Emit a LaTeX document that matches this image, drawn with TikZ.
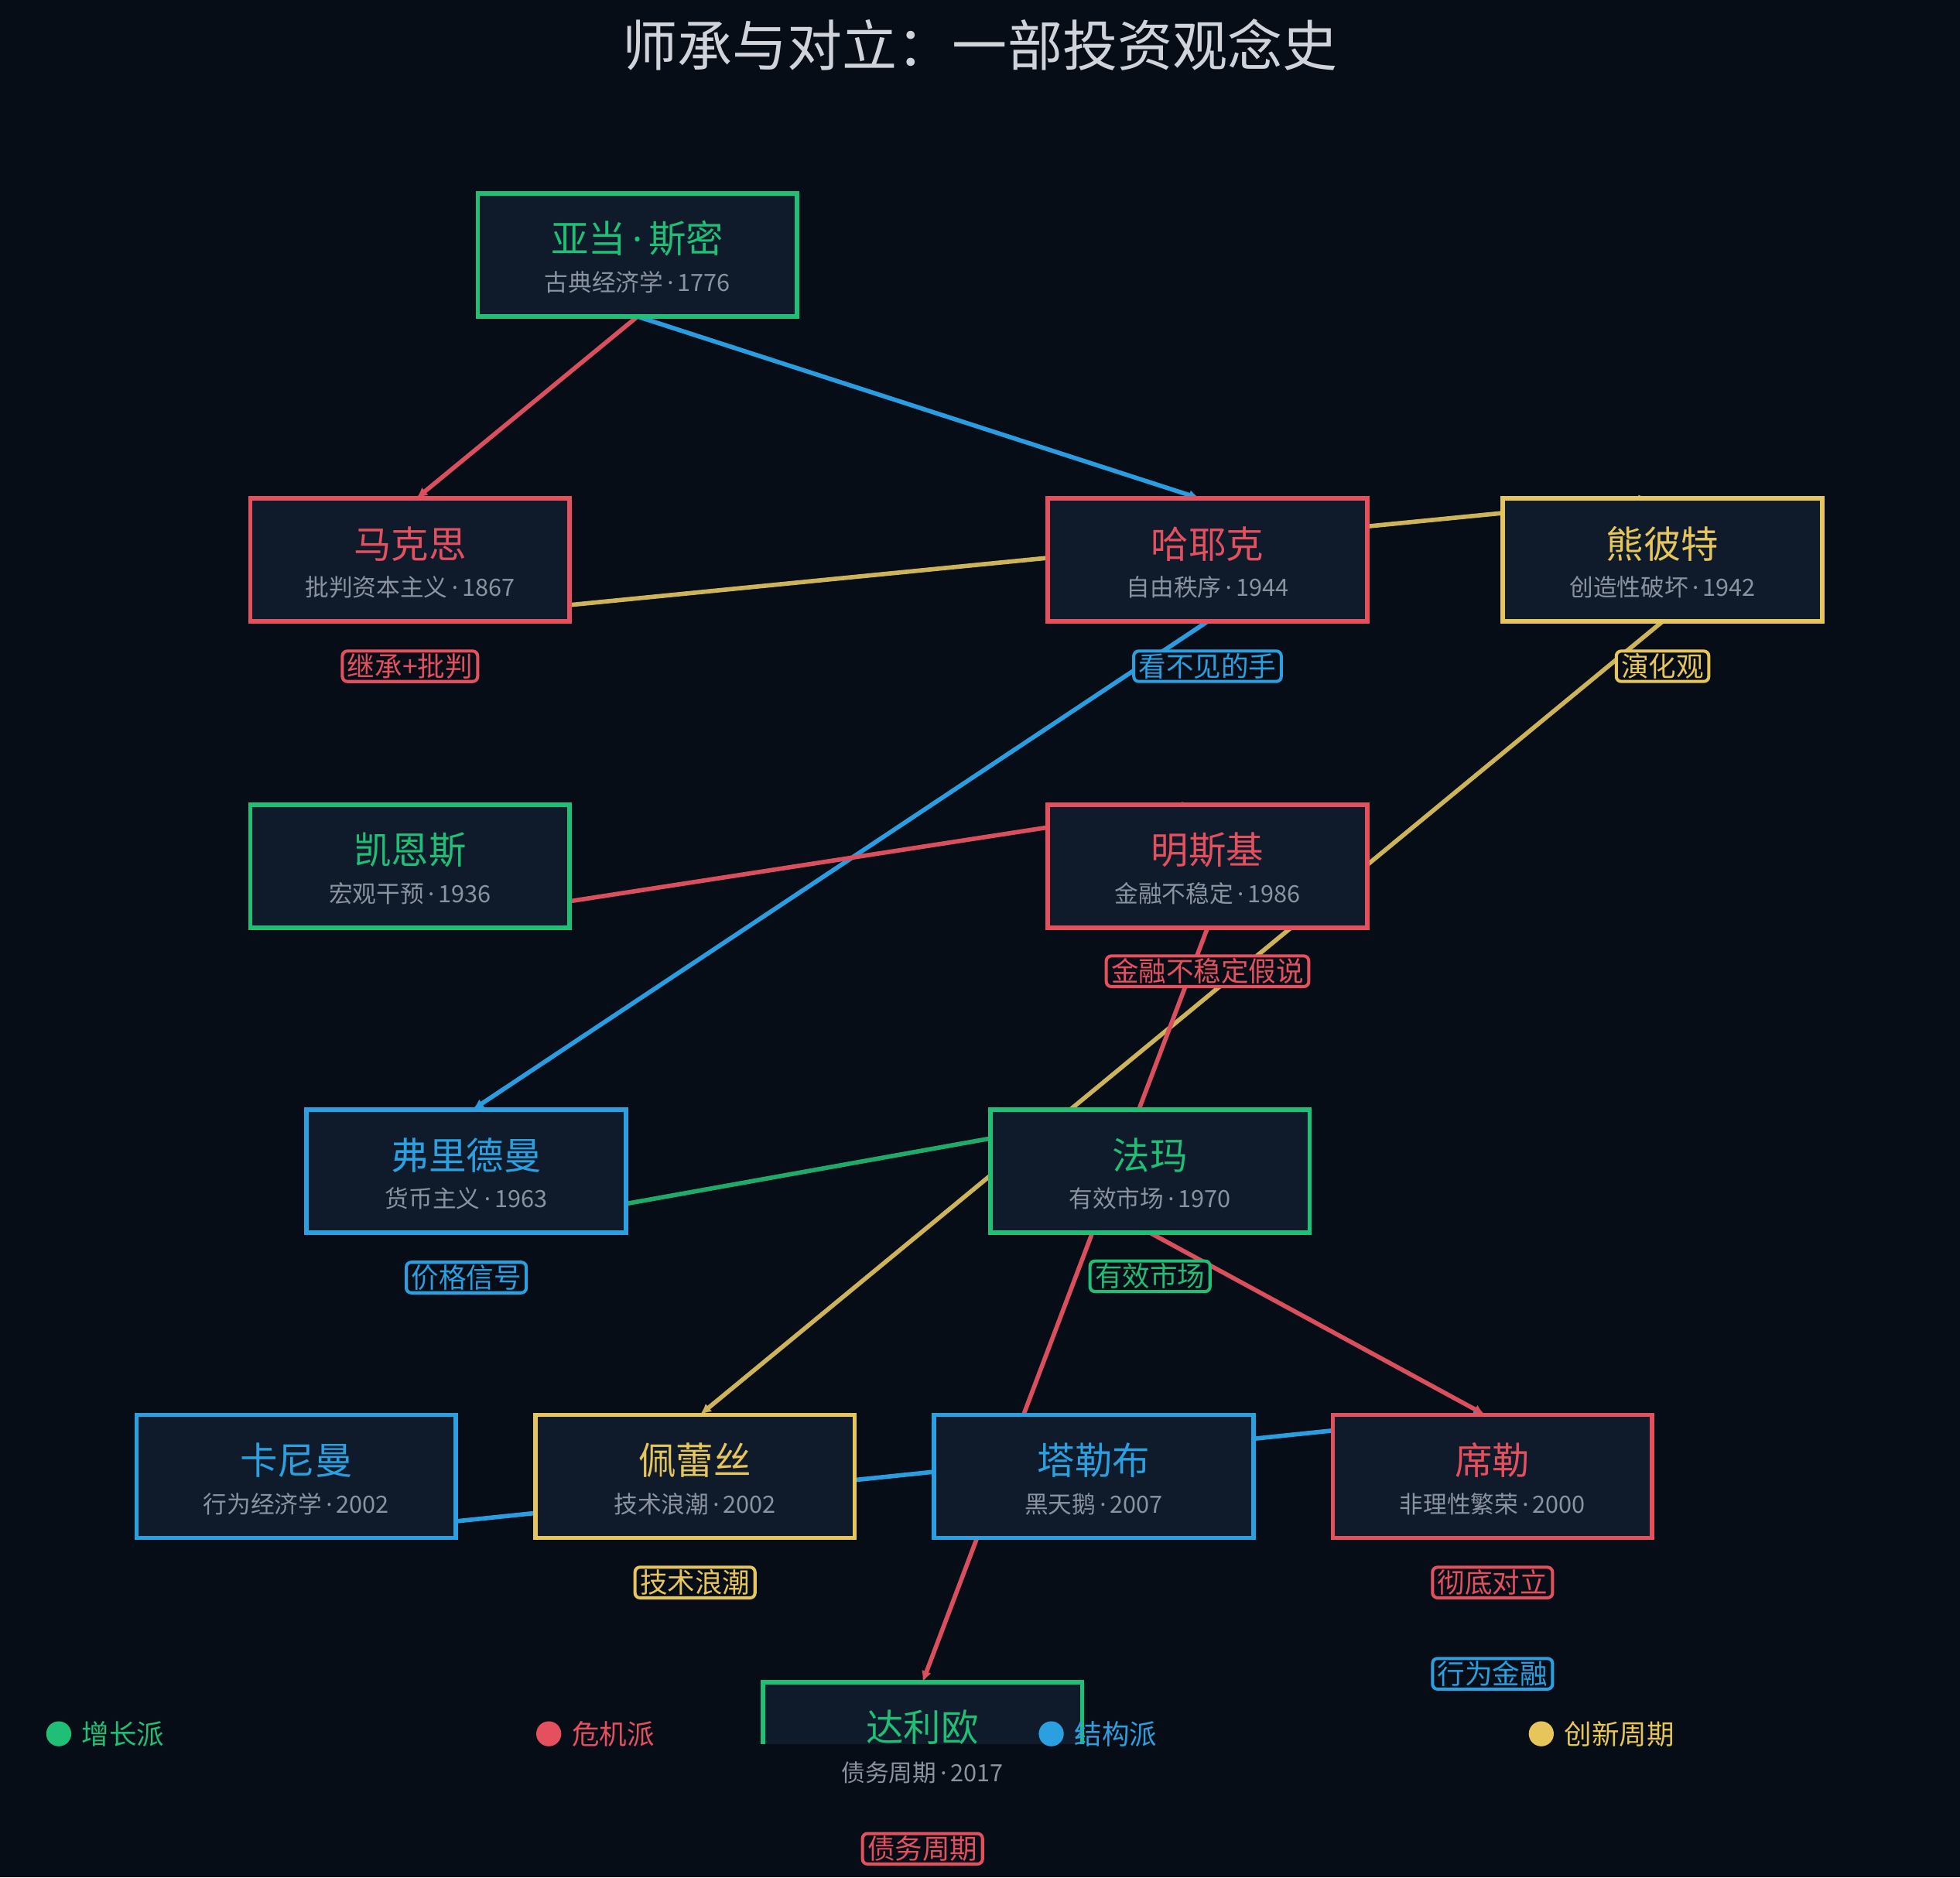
\documentclass[tikz,border=0pt]{standalone}
\usepackage{fontspec}
\setmainfont{Noto Sans CJK SC}
\newfontfamily\lat{Noto Sans}
\usetikzlibrary{arrows.meta}
\definecolor{bg}{HTML}{070D17}
\definecolor{boxfill}{HTML}{0F1A2A}
\definecolor{cg}{HTML}{1FBF75}
\definecolor{cr}{HTML}{E5505F}
\definecolor{cb}{HTML}{2AA0E0}
\definecolor{cy}{HTML}{E6C65A}
\definecolor{lg}{HTML}{1FAA6A}
\definecolor{lr}{HTML}{D94F5D}
\definecolor{lb}{HTML}{2A9DE0}
\definecolor{ly}{HTML}{CDB45A}
\definecolor{sub}{HTML}{8A93A0}
\definecolor{ttl}{HTML}{D0D4DA}
\newcommand{\md}{{\lat\,·\,}}
\begin{document}
\begin{tikzpicture}[x=1pt,y=-1pt,
  box/.style={draw=none,fill=none,minimum width=255pt,minimum height=98pt,inner sep=0pt},
  nm/.style={text=#1,font=\fontsize{30}{32}\selectfont},
  sb/.style={text=sub,font=\fontsize{19}{21}\selectfont},
  tag/.style={draw=#1,text=#1,line width=2.5pt,rounded corners=4pt,fill=bg,inner xsep=4pt,inner ysep=2pt,font=\fontsize{22}{24}\selectfont},
  ed/.style={draw=#1,line width=3.5pt,-{Latex[length=9pt,width=8pt]}},
  lgd/.style={text=#1,font=\fontsize{22}{24}\selectfont,anchor=west}]
\fill[bg] (0,0) rectangle (1568,1502);
\useasboundingbox (0,0) rectangle (1568,1502);
\node[text=ttl,font=\fontsize{44}{48}\selectfont] (title) at (784,36) {师承与对立：一部投资观念史};
\coordinate (csmith) at (510,204);
\coordinate (cmarx) at (328,448);
\coordinate (chayek) at (966,448);
\coordinate (cschum) at (1330,448);
\coordinate (ckeynes) at (328,693);
\coordinate (cminsky) at (966,693);
\coordinate (cfried) at (373,937);
\coordinate (cfama) at (920,937);
\coordinate (ckahn) at (237,1181);
\coordinate (cperez) at (556,1181);
\coordinate (ctaleb) at (875,1181);
\coordinate (cshill) at (1194,1181);
\coordinate (cdalio) at (738,1395);
\node[box] (smith) at (csmith) {};
\node[box] (marx) at (cmarx) {};
\node[box] (hayek) at (chayek) {};
\node[box] (schum) at (cschum) {};
\node[box] (keynes) at (ckeynes) {};
\node[box] (minsky) at (cminsky) {};
\node[box] (fried) at (cfried) {};
\node[box] (fama) at (cfama) {};
\node[box] (kahn) at (ckahn) {};
\node[box] (perez) at (cperez) {};
\node[box] (taleb) at (ctaleb) {};
\node[box] (shill) at (cshill) {};
\node[box] (dalio) at (cdalio) {};
% edges
\draw[ed=lr] (smith.south) -- ([xshift=5pt]marx.north);
\draw[ed=lb] (smith.south) -- ([xshift=-6pt]hayek.north);
\draw[ed=ly] ([yshift=-36pt]marx.east) -- ([xshift=-10pt]schum.north);
\draw[ed=lb] (hayek.south) -- ([xshift=5pt]fried.north);
\draw[ed=lr] ([yshift=-28pt]keynes.east) -- ([xshift=-11pt]minsky.north);
\draw[ed=ly] (schum.south) -- ([xshift=4pt]perez.north);
\draw[ed=lr] (minsky.south) -- (dalio.north);
\draw[ed=lg] ([yshift=-26pt]fried.east) -- (fama.north);
\draw[ed=lr] (fama.south) -- ([xshift=-6pt]shill.north);
\draw[ed=lb] ([yshift=-36pt]kahn.east) -- ([xshift=-6pt]shill.north);
\foreach \n/\c in {smith/cg,marx/cr,hayek/cr,schum/cy,keynes/cg,minsky/cr,fried/cb,fama/cg,kahn/cb,perez/cy,taleb/cb,shill/cr,dalio/cg}{
  \draw[\c,line width=3.5pt,fill=boxfill] (\n.south west) rectangle (\n.north east);
}
\node[nm=cg] (t1) at ([yshift=13pt]csmith) {亚当\md 斯密};
\node[sb] (s1) at ([yshift=-22pt]csmith) {古典经济学\md 1776};
\node[nm=cr] (t2) at ([yshift=13pt]cmarx) {马克思};
\node[sb] (s2) at ([yshift=-22pt]cmarx) {批判资本主义\md 1867};
\node[nm=cr] (t3) at ([yshift=13pt]chayek) {哈耶克};
\node[sb] (s3) at ([yshift=-22pt]chayek) {自由秩序\md 1944};
\node[nm=cy] (t4) at ([yshift=13pt]cschum) {熊彼特};
\node[sb] (s4) at ([yshift=-22pt]cschum) {创造性破坏\md 1942};
\node[nm=cg] (t5) at ([yshift=13pt]ckeynes) {凯恩斯};
\node[sb] (s5) at ([yshift=-22pt]ckeynes) {宏观干预\md 1936};
\node[nm=cr] (t6) at ([yshift=13pt]cminsky) {明斯基};
\node[sb] (s6) at ([yshift=-22pt]cminsky) {金融不稳定\md 1986};
\node[nm=cb] (t7) at ([yshift=13pt]cfried) {弗里德曼};
\node[sb] (s7) at ([yshift=-22pt]cfried) {货币主义\md 1963};
\node[nm=cg] (t8) at ([yshift=13pt]cfama) {法玛};
\node[sb] (s8) at ([yshift=-22pt]cfama) {有效市场\md 1970};
\node[nm=cb] (t9) at ([yshift=13pt]ckahn) {卡尼曼};
\node[sb] (s9) at ([yshift=-22pt]ckahn) {行为经济学\md 2002};
\node[nm=cy] (t10) at ([yshift=13pt]cperez) {佩蕾丝};
\node[sb] (s10) at ([yshift=-22pt]cperez) {技术浪潮\md 2002};
\node[nm=cb] (t11) at ([yshift=13pt]ctaleb) {塔勒布};
\node[sb] (s11) at ([yshift=-22pt]ctaleb) {黑天鹅\md 2007};
\node[nm=cr] (t12) at ([yshift=13pt]cshill) {席勒};
\node[sb] (s12) at ([yshift=-22pt]cshill) {非理性繁荣\md 2000};
\node[nm=cg] (t13) at (738,1382) {达利欧};
\node[tag=cr] (g1) at (328,533) {继承+批判};
\node[tag=cb] (g2) at (966,533) {看不见的手};
\node[tag=cy] (g3) at (1330,533) {演化观};
\node[tag=cr] (g4) at (966,777) {金融不稳定假说};
\node[tag=cb] (g5) at (373,1022) {价格信号};
\node[tag=cg] (g6) at (920,1021) {有效市场};
\node[tag=cy] (g7) at (556,1266) {技术浪潮};
\node[tag=cr] (g8) at (1194,1266) {彻底对立};
\node[tag=cb] (g9) at (1194,1339) {行为金融};
\fill[bg] (0,1395) rectangle (1568,1450);
\node[sb] (s13) at (738,1418) {债务周期\md 2017};
\node[tag=cr] (g10) at (738,1479) {债务周期};
\fill[cg] (47,1387) circle (10pt);
\node[lgd=cg] (l1) at (62,1387) {增长派};
\fill[cr] (439,1387) circle (10pt);
\node[lgd=cr] (l2) at (454,1387) {危机派};
\fill[cb] (841,1387) circle (10pt);
\node[lgd=cb] (l3) at (856,1387) {结构派};
\fill[cy] (1233,1387) circle (10pt);
\node[lgd=cy] (l4) at (1248,1387) {创新周期};
\end{tikzpicture}
\end{document}
